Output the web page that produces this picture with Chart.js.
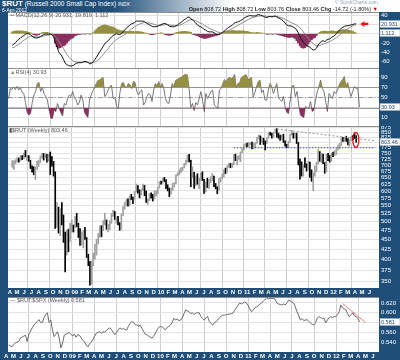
<!DOCTYPE html>
<html><head><meta charset="utf-8">
<script src="https://cdn.jsdelivr.net/npm/chart.js@4.4.1/dist/chart.umd.min.js"></script>
<style>
html,body{margin:0;padding:0;}
body{width:400px;height:360px;background:#1f4e79;position:relative;overflow:hidden;font-family:"Liberation Sans",Arial,sans-serif;}
#hdr{position:absolute;left:0;top:0;width:400px;height:12px;background:linear-gradient(to right,#1f4e79 0%,#1f4e79 28%,#ffffff 58%,#ffffff 100%);}
canvas{position:absolute;left:0;}
.t{position:absolute;white-space:nowrap;font-size:6px;color:#555;line-height:1;z-index:5;}
</style></head><body>
<div id="hdr"></div>
<canvas id="cMacd" width="400" height="56" style="top:12px"></canvas>
<canvas id="cRsi" width="400" height="58" style="top:68px"></canvas>
<canvas id="cPrice" width="400" height="171" style="top:126px"></canvas>
<canvas id="cRatio" width="400" height="63" style="top:297px"></canvas>

<div class="t" style="left:2px;top:0px;color:#fff;font-size:6.5px;"><b style="font-size:8px">$RUT</b> (Russell 2000 Small Cap Index) <span style="font-size:5px">INDX</span></div>
<div class="t" style="left:2px;top:8px;color:#fff;font-size:5px;">6-Apr-2012</div>
<div class="t" style="right:22px;top:0px;color:#8fa3bb;font-size:5px;">© StockCharts.com</div>
<div class="t" style="right:22px;top:6.5px;color:#222;font-size:5.5px;"><b>Open</b> 808.72 <b>High</b> 808.72 <b>Low</b> 803.76 <b>Close</b> 803.46 <b>Chg</b> -14.72 (-1.80%) <span style="color:#c00">▼</span></div>
<div class="t" style="left:10px;top:13px;color:#555;font-size:5.5px;">═ MACD(12,26,9) 20.931, 19.819, 1.112</div>
<div class="t" style="left:10px;top:70px;color:#555;font-size:5.5px;"><span style="color:#8f8a3e">▲</span>RSI(4) 30.93</div>
<div class="t" style="left:9px;top:128px;color:#555;font-size:5.5px;">▮$RUT (Weekly) 803.46</div>
<div class="t" style="left:10px;top:298px;color:#555;font-size:5.5px;">— $RUT:$SPX (Weekly) 0.581</div>

<script>
// ---------- DATA (weekly, week 0 = 11-Apr-2008, week 208 = 6-Apr-2012) ----------
const monthLabels = ['A','M','J','J','A','S','O','N','D',
 '09','F','M','A','M','J','J','A','S','O','N','D',
 '10','F','M','A','M','J','J','A','S','O','N','D',
 '11','F','M','A','M','J','J','A','S','O','N','D',
 '12','F','M','A','M','J'];

const priceHigh = [718,718,722,730,730,740,740,750,763,741,
740,720,696,692,692,716,720,738,750,749,
750,745,745,756,735,715,672,560,545,540,
560,520,470,475,478,495,505,490,515,525,
495,480,470,475,483,455,412,395,395,415,
437,450,466,488,488,503,526,505,492,503,
525,535,531,515,516,497,523,547,560,570,
572,582,588,578,598,625,619,604,606,625,
620,600,572,590,593,588,600,600,612,634,
636,646,650,642,622,610,610,628,630,660,
667,680,688,691,706,720,742,745,720,692,
670,656,664,647,667,672,643,632,647,643,
653,665,655,627,615,645,650,663,680,687,
697,707,706,708,745,746,736,740,756,771,
790,794,797,800,800,801,795,800,823,836,
832,826,820,807,822,847,850,846,850,866,
868,845,836,836,840,808,791,805,840,860,
846,845,845,800,725,713,700,730,705,715,
712,680,668,695,712,767,758,750,746,710,
745,750,740,750,755,762,770,787,795,822,
825,824,830,818,813,830,833,846,833];

const priceLow = [690,682,704,712,712,718,722,725,734,718,
715,685,670,660,642,682,694,710,730,720,
730,712,716,661,695,655,480,483,467,460,
490,442,371,410,418,445,470,470,482,485,
455,434,435,428,450,404,385,343,345,385,
400,410,438,456,457,474,490,478,470,477,
495,516,506,495,490,475,478,518,538,549,
548,550,570,556,571,596,592,576,585,602,
583,560,554,566,575,565,572,582,590,610,
624,628,634,608,600,580,588,601,613,626,
656,660,668,676,688,700,712,713,615,648,
609,618,624,608,640,638,591,596,612,608,
630,638,615,607,590,600,632,645,651,665,
670,690,688,690,700,718,700,723,713,752,
765,782,780,780,787,770,770,775,795,817,
790,800,790,765,795,820,835,820,825,845,
825,820,810,815,800,782,775,778,800,835,
820,820,795,700,643,655,655,690,675,680,
650,635,601,655,672,705,715,710,705,666,
673,718,712,715,735,740,744,765,772,785,
805,805,805,788,782,808,812,818,800];

const priceClose = [694,715,716,727,721,737,729,749,736,736,
718,687,681,667,686,704,715,735,745,738,
739,729,734,729,716,667,522,538,471,537,
500,464,406,473,463,477,488,478,512,493,
474,441,443,472,454,411,389,350,393,407,
433,447,464,484,483,499,520,482,485,501,
522,530,506,511,491,479,521,544,557,566,
563,580,577,571,596,618,594,590,602,610,
585,562,569,582,580,577,591,596,610,633,
625,645,637,610,602,591,605,627,628,659,
665,677,685,690,706,716,741,717,654,670,
630,646,625,643,664,643,597,630,614,639,
650,656,618,612,603,644,648,661,679,676,
695,703,702,704,739,722,733,734,755,770,
790,793,784,794,800,776,784,799,822,833,
814,818,800,799,821,846,844,834,849,865,
835,832,828,835,807,785,784,800,837,844,
825,843,797,714,698,662,700,693,687,711,
652,644,660,691,712,761,741,744,711,667,
737,731,719,747,741,746,767,784,792,820,
807,822,808,799,811,828,823,818,803.46];

const macdLine = [-25,-22,-19,-15,-12,-9,-6,-4,-1,
0,0,-2,-5,-8,-9,-9,-8,
-6,-4,-2,-1,-1,-1,-1,-2,
-6,-18,-27,-38,-43,-48,-55,-63,
-66,-68,-69,-69,-68,-65,-63,-62,
-62,-62,-60,-59,-60,-62,-65,-63,
-60,-55,-50,-44,-38,-33,-27,-21,
-18,-15,-11,-7,-4,-2,0,-1,
-2,0,4,8,12,15,18,21,
22,24,27,27,27,27,27,26,
23,21,19,17,15,15,15,16,
18,19,21,22,21,19,16,15,
15,15,17,19,22,24,27,30,
32,35,36,32,30,26,23,19,
16,15,13,9,8,5,4,4,
4,2,0,-2,-1,0,2,5,
8,11,14,16,18,22,24,25,
26,28,30,33,35,37,38,39,
38,38,38,40,41,40,39,37,
35,35,36,37,36,37,38,36,
34,32,30,27,23,19,17,17,
16,14,12,8,2,-6,-13,-18,
-22,-25,-27,-29,-32,-35,-34,-31,
-24,-20,-16,-15,-17,-14,-12,-11,
-8,-6,-4,0,4,8,12,14,
16,17,17,18,19,20,21,20.931];

const macdSignal = [-30,-29,-27,-25,-23,-20,-17,-14,-12,
-9,-7,-6,-5,-6,-6,-7,-7,
-7,-6,-5,-4,-3,-3,-2,-2,
-3,-6,-10,-16,-21,-26,-32,-38,
-44,-49,-53,-56,-58,-60,-61,-61,
-61,-61,-61,-61,-61,-61,-62,-62,
-62,-61,-59,-56,-53,-49,-45,-40,
-36,-32,-27,-23,-19,-15,-12,-10,
-8,-6,-4,-2,1,4,7,10,
12,15,17,19,21,22,23,24,
24,23,23,22,21,20,19,18,
18,18,19,19,20,20,19,18,
18,17,17,17,18,19,21,23,
25,27,29,30,30,29,28,26,
24,22,21,18,16,14,12,10,
9,7,6,4,3,2,2,3,
4,5,7,9,11,13,15,17,
19,21,23,25,27,29,31,33,
34,35,36,37,38,38,38,38,
38,37,37,37,37,37,37,37,
36,35,34,33,31,29,27,25,
23,22,20,18,16,13,9,4,
-1,-5,-10,-14,-18,-21,-24,-26,
-26,-25,-24,-22,-21,-20,-18,-17,
-15,-13,-11,-9,-6,-3,0,3,
6,9,11,13,15,17,18,19.819];

const macdHist = [4,5,6,6,6,6,6,5,5,4,
3,2,0,-2,-3,-3,-2,1,2,3,
3,3,2,1,1,-5,-20,-28,-31,-30,
-28,-26,-24,-20,-16,-12,-10,-8,-4,-3,
-2,-1,-1,0,-1,0,0,-1,0,2,
6,10,13,15,17,18,19,18,17,16,
15,14,12,10,8,7,6,6,5,5,
5,5,5,5,4,5,5,4,4,3,
2,1,0,-1,-2,-2,-1,0,1,1,
2,1,-1,-2,-3,-3,-3,-2,1,2,
3,4,4,5,5,5,4,4,3,-1,
-2,-3,-4,-6,-8,-9,-10,-10,-9,-8,
-7,-6,-5,-4,-3,-2,1,3,4,5,
6,6,6,7,7,6,6,6,6,6,
6,5,5,4,3,2,2,2,3,2,
2,1,1,0,-1,-1,0,-1,-1,0,
-1,-2,-3,-4,-5,-6,-7,-8,-8,-7,
-8,-10,-15,-20,-26,-30,-31,-30,-27,-22,
-17,-13,-10,-8,-4,0,3,5,5,6,
5,5,5,6,6,5,5,6,7,8,
9,9,8,8,7,6,5,3,1.112];

const rsi4 = [48,68,66,71,66,72,65,70,60,58,
40,20,15,18,40,55,62,78,80,62,
71,58,52,45,25,9,8,25,22,38,
28,20,13,38,35,48,55,52,62,50,
45,35,40,55,45,20,15,10,45,55,
64,70,78,84,85,88,90,52,56,65,
72,74,48,50,32,28,60,78,80,72,
70,78,75,68,82,80,62,55,62,65,
35,40,52,58,55,42,65,78,74,82,
70,78,68,48,40,38,55,78,72,84,
86,88,90,92,95,96,95,68,30,38,
24,40,35,48,62,45,22,58,48,55,
62,65,35,32,28,65,68,78,86,80,
88,90,88,90,96,70,78,80,90,92,
95,95,85,88,90,50,60,72,82,85,
60,65,45,45,65,78,72,58,68,78,
50,45,42,52,30,20,18,45,72,75,
52,62,35,15,12,10,32,30,28,42,
22,25,45,62,72,85,68,62,42,22,
58,52,48,62,58,65,75,82,85,92,
72,80,65,52,62,72,68,70,30.93];

const rutSpxRatio = [.534,.532,.530,.535,.538,.540,.541,.548,.550,.552,
.554,.541,.556,.562,.569,.575,.578,.582,.586,.580,
.580,.590,.596,.600,.580,.585,.565,.551,.556,.561,
.548,.528,.538,.554,.556,.558,.559,.556,.552,.556,
.550,.555,.554,.548,.544,.540,.534,.530,.536,.540,
.545,.552,.558,.560,.561,.558,.561,.560,.564,.567,
.569,.566,.560,.555,.560,.565,.569,.566,.568,.565,
.565,.572,.578,.582,.580,.576,.575,.572,.575,.568,
.562,.556,.555,.552,.550,.548,.552,.558,.565,.570,
.572,.571,.568,.565,.570,.572,.575,.580,.589,.585,
.587,.584,.585,.590,.598,.606,.604,.602,.598,.600,
.596,.599,.600,.600,.592,.588,.585,.590,.592,.582,
.578,.575,.580,.582,.585,.590,.593,.595,.595,.596,
.597,.597,.598,.599,.605,.610,.615,.620,.618,.620,
.622,.620,.615,.608,.602,.605,.610,.612,.614,.618,
.620,.624,.627,.630,.628,.630,.629,.630,.628,.620,
.618,.617,.616,.618,.616,.620,.626,.624,.622,.620,
.612,.602,.594,.585,.588,.584,.585,.586,.582,.579,
.576,.575,.580,.589,.592,.590,.588,.589,.579,.585,
.590,.592,.590,.592,.592,.596,.602,.616,.610,.608,
.606,.598,.592,.596,.600,.594,.592,.589,.581];

// tick labels
const macdTicks = [40,20,0,-20,-40,-60];
const rsiTicks = [90,70,50,30,10];
const priceTicks = [350,375,400,425,450,475,500,525,550,575,600,625,650,675,700,725,750,775,800,825,850,875];
const ratioTicks = [0.62,0.60,0.58,0.56,0.54];

// annotation lines (week, value)
const priceResistance = [[160,866],[219.5,808]];
const priceSupport = [[134,775],[219.5,775]];
const ratioTrend = [[198,0.619],[211.5,0.580]];
const priceCircle = [207.8, 812];
const macdArrow = [210.5, 21];

// ---------- CHARTS ----------
Chart.defaults.animation = false;
Chart.defaults.font.family = '"Liberation Sans", Arial, sans-serif';
Chart.defaults.plugins.legend.display = false;
Chart.defaults.plugins.tooltip.enabled = false;

const BLUE = '#1f4e79', OLIVE = '#948f42', MAROON = '#8a2f5e';
const X_MIN = -0.36, X_MAX = 219.6;
const startMs = Date.UTC(2008,3,11);
const monthPos = monthLabels.map((l,k)=>{const y=2008+Math.floor((3+k)/12), m=(3+k)%12; return (Date.UTC(y,m,1)-startMs)/(7*864e5);});

function xAxis(show, h){
  return {type:'linear', min:X_MIN, max:X_MAX, position:'bottom',
    afterBuildTicks: s => { s.ticks = monthPos.map(v=>({value:v})); },
    afterFit: s => { s.height = h; s.paddingLeft = 0; s.paddingRight = 0; },
    grid:{color: c => (c.index>0 && c.index%3===0) ? '#cdcdcd' : 'rgba(0,0,0,0)', drawTicks:false, lineWidth:1},
    border:{display:false},
    ticks:{display:show, autoSkip:false, maxRotation:0, minRotation:0, padding:1, color:'#fff',
      font:{size:6, weight:'bold'}, callback:(v,i)=>monthLabels[i]}
  };
}
function yAxis(type, min, max, ticks, fmt){
  return {type, min, max, position:'right',
    afterBuildTicks: s => { s.ticks = ticks.map(v=>({value:v})); },
    afterFit: s => { s.width = 21; s.paddingTop = 0; s.paddingBottom = 0; },
    grid:{color:'#e2e2e2', drawTicks:false, lineWidth:1},
    border:{display:false},
    ticks:{color:'#fff', font:{size:6}, padding:2, crossAlign:'near', autoSkip:false, callback: fmt || (v=>String(v))}
  };
}
const frame = {id:'frame',
  beforeDraw(chart){const {ctx, chartArea:a}=chart; ctx.save(); ctx.fillStyle='#fff'; ctx.fillRect(a.left,a.top,a.right-a.left,a.bottom-a.top); ctx.restore();},
  afterDraw(chart, args, opts){
    const {ctx, chartArea:a}=chart; ctx.save();
    ctx.strokeStyle='#8c8c8c'; ctx.lineWidth=1; ctx.beginPath(); ctx.moveTo(a.left,a.top+0.5); ctx.lineTo(a.right,a.top+0.5); ctx.stroke();
    (opts.boxes||[]).forEach(b=>{
      const y=chart.scales.y.getPixelForValue(b.v);
      ctx.fillStyle='#fff'; ctx.fillRect(a.right+1,Math.round(y)-3.5,20,7);
      ctx.strokeStyle='#9aaec4'; ctx.lineWidth=0.6; ctx.strokeRect(a.right+1,Math.round(y)-3.5,20,7);
      ctx.fillStyle='#1f3f66'; ctx.font='5.5px "Liberation Sans"'; ctx.textBaseline='middle'; ctx.textAlign='left';
      ctx.fillText(b.t, a.right+2, Math.round(y)+0.3);
    });
    ctx.restore();
  }};
const lineDs = (data, color, w, extra) => Object.assign({type:'line', data, borderColor:color, borderWidth:w, pointRadius:0, tension:0, fill:false}, extra||{});
const seg = pts => pts.map(p=>({x:p[0], y:p[1]}));
const xy = arr => arr.map((v,i)=>({x:i, y:v}));
const opts = (scales, boxes) => ({responsive:false, devicePixelRatio:1, layout:{padding:{left:8,right:0,top:0,bottom:0}, autoPadding:false},
  scales, plugins:{frame:{boxes}}});

// MACD
new Chart(document.getElementById('cMacd'), {
  data:{datasets:[
    {type:'bar', data:xy(macdHist), backgroundColor:macdHist.map(v=>v>=0?OLIVE:MAROON), borderWidth:0, barPercentage:1, categoryPercentage:1, order:3},
    lineDs(xy(macdSignal), '#8a8a8a', 1, {order:2}),
    lineDs(xy(macdLine), '#111', 1, {order:1})
  ]},
  options: opts({x:xAxis(false,0), y:yAxis('linear',-73.4,46.5,macdTicks)}, [{v:20.931,t:'20.931'},{v:1.112,t:'1.112'}]),
  plugins:[frame, {id:'arrow', afterDraw(chart){
    const {ctx, scales:{x,y}}=chart; const px=x.getPixelForValue(macdArrow[0]), py=y.getPixelForValue(macdArrow[1]);
    ctx.save(); ctx.fillStyle='#e11'; ctx.beginPath(); ctx.moveTo(px,py); ctx.lineTo(px+4,py-3); ctx.lineTo(px+4,py-1.2); ctx.lineTo(px+8,py-1.2); ctx.lineTo(px+8,py+1.2); ctx.lineTo(px+4,py+1.2); ctx.lineTo(px+4,py+3); ctx.closePath(); ctx.fill(); ctx.restore();
  }}]
});

// RSI
new Chart(document.getElementById('cRsi'), {
  data:{datasets:[
    lineDs(xy(rsi4), 'rgba(0,0,0,0)', 0, {fill:{target:{value:70}, above:OLIVE, below:'rgba(0,0,0,0)'}}),
    lineDs(xy(rsi4), 'rgba(0,0,0,0)', 0, {fill:{target:{value:30}, above:'rgba(0,0,0,0)', below:MAROON}}),
    lineDs(xy(rsi4), '#666', 0.9)
  ]},
  options: opts({x:xAxis(false,0), y:yAxis('linear',-7,109,rsiTicks)}, [{v:30.93,t:'30.93'}]),
  plugins:[frame, {id:'rsiLines', beforeDatasetsDraw(chart){
    const {ctx, chartArea:a, scales:{y}}=chart; ctx.save(); ctx.strokeStyle='#999'; ctx.lineWidth=1;
    [70,30].forEach(v=>{const p=Math.round(y.getPixelForValue(v))+0.5; ctx.beginPath(); ctx.moveTo(a.left,p); ctx.lineTo(a.right,p); ctx.stroke();});
    ctx.setLineDash([5,2,1,2]); const p=Math.round(y.getPixelForValue(50))+0.5; ctx.beginPath(); ctx.moveTo(a.left,p); ctx.lineTo(a.right,p); ctx.stroke(); ctx.restore();
  }}]
});

// Price
new Chart(document.getElementById('cPrice'), {
  data:{datasets:[
    {type:'bar', data:priceHigh.map((h,i)=>({x:i, y:[priceLow[i],h]})), backgroundColor:priceClose.map((c,i)=> (i>0 && c<priceClose[i-1]) ? '#000' : '#a0a0a0'), borderWidth:0, barThickness:1, grouped:false, order:2},
    lineDs(seg(priceResistance), '#9a9a9a', 1, {borderDash:[2,2], order:1}),
    lineDs(seg(priceSupport), '#3b3bff', 1, {borderDash:[1.5,1.5], order:1})
  ]},
  options: opts({x:xAxis(true,9), y:yAxis('logarithmic',337.2,881.8,priceTicks)}, [{v:803.46,t:'803.46'}]),
  plugins:[frame, {id:'circle', afterDatasetsDraw(chart){
    const {ctx, scales:{x,y}}=chart; ctx.save(); ctx.strokeStyle='#e00'; ctx.lineWidth=1.2; ctx.beginPath();
    ctx.ellipse(x.getPixelForValue(priceCircle[0]), y.getPixelForValue(priceCircle[1]), 3, 7.5, 0, 0, Math.PI*2); ctx.stroke(); ctx.restore();
  }}]
});

// Ratio
new Chart(document.getElementById('cRatio'), {
  data:{datasets:[
    lineDs(xy(rutSpxRatio), '#6a6a6a', 1),
    lineDs(seg(ratioTrend), '#f08080', 1)
  ]},
  options: opts({x:xAxis(true,8), y:yAxis('linear',0.5195,0.6323,ratioTicks,v=>v.toFixed(3))}, [{v:0.581,t:'0.581'}]),
  plugins:[frame]
});
</script>
</body></html>
